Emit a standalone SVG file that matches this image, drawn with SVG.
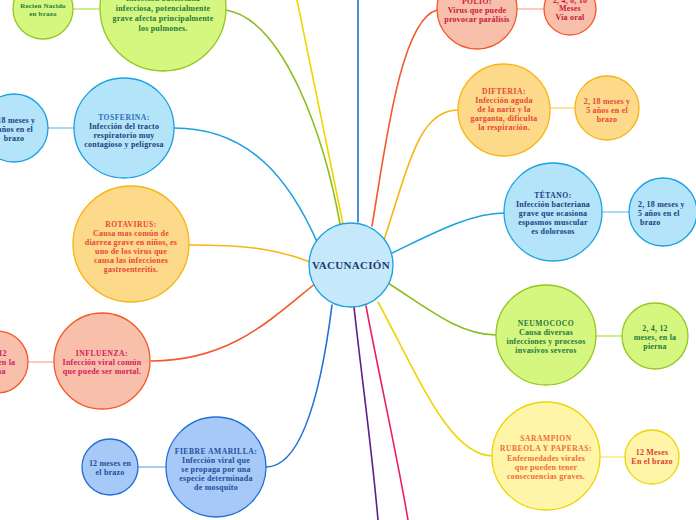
<svg xmlns="http://www.w3.org/2000/svg" width="696" height="520" viewBox="0 0 696 520">
<style>
text{font-family:"Liberation Serif","Times New Roman",serif;font-weight:bold;font-size:8px;letter-spacing:0.2px;text-anchor:middle}
.t{letter-spacing:0.5px;font-size:7.6px}
.c{fill:none;stroke-width:1.6;stroke-linecap:round}
.s{fill:none;stroke-width:2}
.green circle{fill:#d5f77f;stroke:#93c81f;stroke-width:1.3}
.green text{fill:#1f7a3e}
.lblue circle{fill:#b3e4fa;stroke:#1aa1e0;stroke-width:1.3}
.lblue text{fill:#1e3f7a}
.lblue .t{fill:#2f6db5}
.mblue circle{fill:#a7c9f7;stroke:#1f6fd6;stroke-width:1.3}
.mblue text{fill:#1f4f9a}
.orange circle{fill:#fdd98a;stroke:#f6b50f;stroke-width:1.3}
.orange text{fill:#e8453c}
.salmon circle{fill:#f8bfab;stroke:#f4572a;stroke-width:1.3}
.salmon text{fill:#d6195c}
.polio text{fill:#c8193c}
.yellow circle{fill:#fff5a8;stroke:#efd500;stroke-width:1.3}
.yellow text{fill:#ef6c3a}
.yellow .k text{fill:#e53935}
</style>
<g id="connectors">
<path class="c" stroke="#8bbd1c" d="M340 224 C325 140 285 20 226 10"/>
<path class="c" stroke="#f0d600" d="M343 224 Q320 110 297 0"/>
<path class="c" stroke="#1f6fd6" d="M358 222 L358 0"/>
<path class="c" stroke="#f4572a" d="M372 226 C385 150 400 20 437 10"/>
<path class="c" stroke="#f6b50f" d="M384 240 C410 160 420 110 458 110"/>
<path class="c" stroke="#1aa1e0" d="M390 254 C430 235 470 213 504 213"/>
<path class="c" stroke="#8bbd1c" d="M388 283 C430 310 460 335 496 335"/>
<path class="c" stroke="#efd500" d="M378 302 C420 380 450 456 493 456"/>
<path class="c" stroke="#ec1e6b" d="M366 306 C380 380 398 460 408 520"/>
<path class="c" stroke="#5e1e8c" d="M354 307 C362 380 372 450 378 520"/>
<path class="c" stroke="#1f6fd6" d="M332 305 C320 400 300 467 266 467"/>
<path class="c" stroke="#f4572a" d="M151 361 C230 361 270 320 316 283"/>
<path class="c" stroke="#f6b50f" d="M189 245 C250 245 280 250 310 262"/>
<path class="c" stroke="#1aa1e0" d="M174 128 C250 128 290 180 318 244"/>
<path class="s" stroke="#cdee8f" d="M73 9 L100 9"/>
<path class="s" stroke="#a3dcf6" d="M46 128 L74 128"/>
<path class="s" stroke="#fbcab8" d="M27 362 L54 362"/>
<path class="s" stroke="#a9c9f6" d="M138 467 L166 467"/>
<path class="s" stroke="#fbcab8" d="M517 9 L544 9"/>
<path class="s" stroke="#fde3a0" d="M550 108 L575 108"/>
<path class="s" stroke="#a3dcf6" d="M602 212 L629 212"/>
<path class="s" stroke="#cdee8f" d="M596 336 L622 336"/>
<path class="s" stroke="#fbf1a0" d="M600 457 L625 457"/>
</g>
<g id="center">
<circle cx="351" cy="265" r="42" fill="#c5e8fb" stroke="#1aa1e0" stroke-width="1.3"/>
<text x="351" y="269" style="font-size:11px;letter-spacing:0.3px;fill:#1c3a6b">VACUNACIÓN</text>
</g>
<g id="neumonia" class="green">
<circle cx="163" cy="8" r="63"/>
<text x="163" y="1">Infección bacteriana</text>
<text x="163" y="11">infecciosa, potencialmente</text>
<text x="163" y="21">grave afecta principalmente</text>
<text x="163" y="31">los pulmones.</text>
</g>
<g id="neumonia-dosis" class="green">
<circle cx="43" cy="9" r="30"/>
<text x="43" y="8" style="font-size:7px">Recien Nacido</text>
<text x="43" y="16" style="font-size:7px">en brazo</text>
</g>
<g id="tosferina" class="lblue">
<circle cx="124" cy="128" r="50"/>
<text class="t" x="124" y="120">TOSFERINA:</text>
<text x="124" y="129">Infección del tracto</text>
<text x="124" y="138">respiratorio muy</text>
<text x="124" y="147">contagioso y peligrosa</text>
</g>
<g id="tosferina-dosis" class="lblue">
<circle cx="14" cy="128" r="34"/>
<text x="12" y="123">2, 18 meses y</text>
<text x="12" y="132">5 años en el</text>
<text x="14" y="141">brazo</text>
</g>
<g id="rotavirus" class="orange">
<circle cx="131" cy="244" r="58"/>
<text class="t" x="131" y="227">ROTAVIRUS:</text>
<text x="131" y="236">Causa mas común de</text>
<text x="131" y="245">diarrea grave en niños, es</text>
<text x="131" y="254">uno de los virus que</text>
<text x="131" y="263">causa las infecciones</text>
<text x="131" y="272">gastroenteritis.</text>
</g>
<g id="influenza" class="salmon">
<circle cx="102" cy="361" r="48"/>
<text class="t" x="102" y="356">INFLUENZA:</text>
<text x="102" y="365">Infección viral común</text>
<text x="102" y="374">que puede ser mortal.</text>
</g>
<g id="influenza-dosis" class="salmon">
<circle cx="-3" cy="362" r="31"/>
<text x="-6" y="356">2, 4, 12</text>
<text x="-6" y="365">meses, en la</text>
<text x="-6" y="374">pierna</text>
</g>
<g id="fiebre" class="mblue">
<circle cx="216" cy="467" r="50"/>
<text class="t" x="216" y="454">FIEBRE AMARILLA:</text>
<text x="216" y="463">Infección viral que</text>
<text x="216" y="472">se propaga por una</text>
<text x="216" y="481">especie determinada</text>
<text x="216" y="490">de mosquito</text>
</g>
<g id="fiebre-dosis" class="mblue">
<circle cx="110" cy="467" r="28"/>
<text x="110" y="466">12 meses en</text>
<text x="110" y="475">el brazo</text>
</g>
<g id="polio" class="salmon polio">
<circle cx="477" cy="9" r="40"/>
<text class="t" x="477" y="4">POLIO:</text>
<text x="477" y="13">Virus que puede</text>
<text x="477" y="22">provocar parálisis</text>
</g>
<g id="polio-dosis" class="salmon polio">
<circle cx="570" cy="9" r="26"/>
<text x="570" y="2.5">2, 4, 6, 18</text>
<text x="570" y="11">Meses</text>
<text x="570" y="19.5">Via oral</text>
</g>
<g id="difteria" class="orange">
<circle cx="504" cy="110" r="46"/>
<text class="t" x="504" y="94">DIFTERIA:</text>
<text x="504" y="103">Infección aguda</text>
<text x="504" y="112">de la nariz y la</text>
<text x="504" y="121">garganta, dificulta</text>
<text x="504" y="130">la respiración.</text>
</g>
<g id="difteria-dosis" class="orange">
<circle cx="607" cy="108" r="32"/>
<text x="607" y="104">2, 18 meses y</text>
<text x="607" y="113">5 años en el</text>
<text x="607" y="122">brazo</text>
</g>
<g id="tetano" class="lblue">
<circle cx="553" cy="212" r="49"/>
<text class="t" x="553" y="198" style="fill:#1e3f7a">TÉTANO:</text>
<text x="553" y="207">Infección bacteriana</text>
<text x="553" y="216">grave que ocasiona</text>
<text x="553" y="225">espasmos muscular</text>
<text x="553" y="234">es dolorosos</text>
</g>
<g id="tetano-dosis" class="lblue">
<circle cx="663" cy="212" r="34"/>
<text x="638" y="207" style="text-anchor:start">2, 18 meses y</text>
<text x="638" y="216" style="text-anchor:start">5 años en el</text>
<text x="640" y="225" style="text-anchor:start">brazo</text>
</g>
<g id="neumococo" class="green">
<circle cx="546" cy="335" r="50"/>
<text class="t" x="546" y="326">NEUMOCOCO</text>
<text x="546" y="335">Causa diversas</text>
<text x="546" y="344">infecciones y procesos</text>
<text x="546" y="353">invasivos severos</text>
</g>
<g id="neumococo-dosis" class="green">
<circle cx="655" cy="336" r="33"/>
<text x="655" y="331">2, 4, 12</text>
<text x="655" y="340">meses, en la</text>
<text x="655" y="349">pierna</text>
</g>
<g id="sarampion" class="yellow">
<circle cx="546" cy="456" r="54"/>
<text class="t" x="546" y="441">SARAMPION</text>
<text class="t" x="546" y="451">RUBEOLA Y PAPERAS:</text>
<text x="546" y="461">Enfermedades virales</text>
<text x="546" y="470">que pueden tener</text>
<text x="546" y="479">consecuencias graves.</text>
</g>
<g id="sarampion-dosis" class="yellow">
<circle cx="652" cy="457" r="27"/>
<g class="k">
<text x="652" y="455">12 Meses</text>
<text x="652" y="464">En el brazo</text>
</g>
</g>
</svg>
